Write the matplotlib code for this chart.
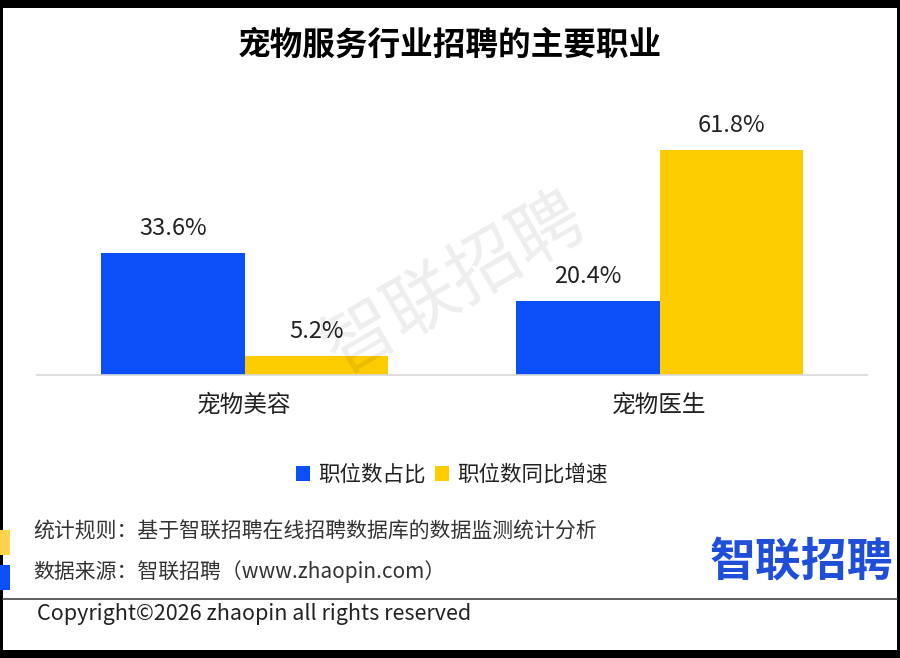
import numpy as np
import matplotlib.pyplot as plt
from matplotlib.patches import Rectangle

plt.rcParams['font.family'] = ['Noto Sans CJK SC', 'DejaVu Sans']

# data
categories = ['宠物美容', '宠物医生']
share = [33.6, 20.4]
growth = [5.2, 61.8]
series_names = ['职位数占比', '职位数同比增速']

blue = '#0a4ff7'
yellow = '#fccb00'

fig = plt.figure(figsize=(9, 6.58), dpi=100, facecolor='black')

# white page inside the dark screenshot border
fig.patches.append(Rectangle((3 / 900, 8 / 658), 894 / 900, 642 / 658,
                             transform=fig.transFigure, facecolor='white',
                             edgecolor='none', zorder=-10))

ax = fig.add_axes([37 / 900, 1 - 375 / 658, 830 / 900, 273 / 658])
ax.set_facecolor('none')
ax.set_zorder(2)

x = np.arange(len(categories))
w = 0.345
b1 = ax.bar(x - w / 2, share, w, color=blue, label=series_names[0])
b2 = ax.bar(x + w / 2, growth, w, color=yellow, label=series_names[1])

for bars, vals in ((b1, share), (b2, growth)):
    for r, v in zip(bars, vals):
        ax.text(r.get_x() + r.get_width() / 2, v + 3.6, f'{v}%',
                ha='center', va='bottom', fontsize=17, color='#222222')

ax.set_xlim(-0.5, 1.5)
ax.set_ylim(0, 75)
ax.set_yticks([])
ax.set_xticks(x)
ax.set_xticklabels(categories, fontsize=17, color='#222222')
ax.tick_params(axis='x', length=0, pad=14)
for s in ['top', 'left', 'right']:
    ax.spines[s].set_visible(False)
ax.spines['bottom'].set_color('#d9d9d9')
ax.spines['bottom'].set_linewidth(1.2)

leg = ax.legend(loc='upper center', bbox_to_anchor=(0.5, -0.255), ncol=2,
                frameon=False, fontsize=15.5, handlelength=0.65, handleheight=0.65,
                handletextpad=0.4, columnspacing=0.4)
for t in leg.get_texts():
    t.set_color('#222222')

# watermark
fig.text(455 / 900, 1 - 285 / 658, '智联招聘', fontsize=52, color='#000000',
         alpha=0.07, rotation=30, ha='center', va='center', zorder=5)

fig.text(0.5, 1 - 45 / 658, '宠物服务行业招聘的主要职业', fontsize=23.5,
         fontweight='heavy', ha='center', va='center', color='black')

# footer
fig.patches.append(Rectangle((0, 1 - 555 / 658), 10 / 900, 25 / 658,
                             transform=fig.transFigure, facecolor='#ffd34d',
                             edgecolor='none'))
fig.patches.append(Rectangle((0, 1 - 590 / 658), 10 / 900, 25 / 658,
                             transform=fig.transFigure, facecolor=blue,
                             edgecolor='none'))
fig.text(33 / 900, 1 - 532 / 658, '统计规则：基于智联招聘在线招聘数据库的数据监测统计分析',
         fontsize=15, va='center', color='#333333')
fig.text(33 / 900, 1 - 572 / 658, '数据来源：智联招聘（www.zhaopin.com）',
         fontsize=15, va='center', color='#333333')
fig.text(801 / 900, 1 - 562 / 658, '智联招聘', fontsize=33, fontweight='bold',
         color='#1f4fd8', ha='center', va='center')
fig.add_artist(plt.Line2D([3 / 900, 897 / 900], [1 - 599 / 658, 1 - 599 / 658],
                          transform=fig.transFigure, color='#444444', lw=1.2))
fig.text(37 / 900, 1 - 614 / 658, 'Copyright©2026 zhaopin all rights reserved',
         fontsize=15.5, va='center', color='#222222')

fig.savefig('out.png', dpi=100, facecolor=fig.get_facecolor())
